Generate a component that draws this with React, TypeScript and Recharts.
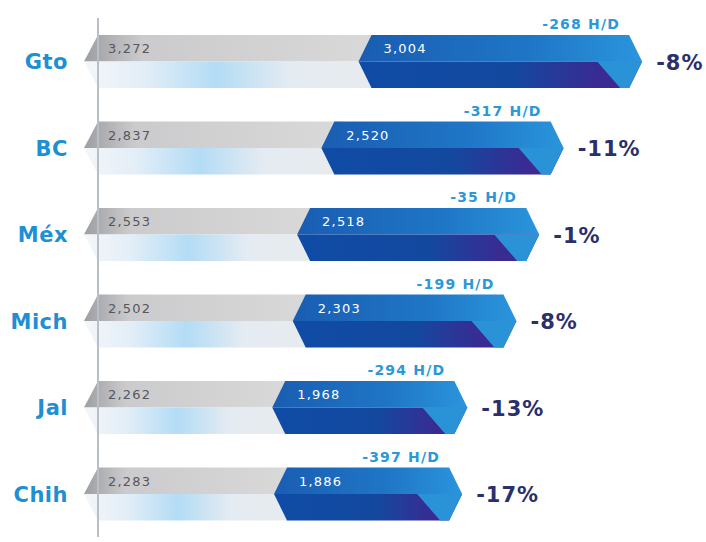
import React from 'react';
import { BarChart, Bar, XAxis, YAxis } from 'recharts';

const categories = ['Gto', 'BC', 'Méx', 'Mich', 'Jal', 'Chih'];
const previousValues = [3272, 2837, 2553, 2502, 2262, 2283];
const currentValues = [3004, 2520, 2518, 2303, 1968, 1886];
const diffLabels = ['-268 H/D', '-317 H/D', '-35 H/D', '-199 H/D', '-294 H/D', '-397 H/D'];
const pctLabels = ['-8%', '-11%', '-1%', '-8%', '-13%', '-17%'];

const data = categories.map((name, i) => ({
  name,
  prev: previousValues[i],
  cur: currentValues[i],
  diff: diffLabels[i],
  pct: pctLabels[i],
}));

const FONT = '"DejaVu Sans", "Open Sans", sans-serif';
const fmt = (v: number) => v.toLocaleString('en-US');

const GrayShape = (props: any) => {
  const { x, y, width, height, payload } = props;
  const h = height;
  const mid = y + h / 2;
  const xs = x - 14;
  const xe = x + width;
  return (
    <g>
      <polygon points={`${xs},${mid} ${x},${y} ${xe},${y} ${xe},${mid}`} fill="url(#grayTop)" />
      <polygon points={`${xs},${mid} ${xe},${mid} ${xe},${y + h} ${x},${y + h}`} fill="url(#grayBottom)" />
      <text x={x + 10} y={y + 18} fontFamily={FONT} fontSize={13} letterSpacing={1.2} fill="#55575e">
        {fmt(payload.prev)}
      </text>
    </g>
  );
};

const BlueShape = (props: any) => {
  const { x, y, width, height, payload } = props;
  const h = height;
  const mid = y + h / 2;
  const d = 13;
  const xs = x - 19;
  const xe = x + width + 8;
  return (
    <g>
      <polygon points={`${xs},${mid} ${xs + d},${y} ${xe - d},${y} ${xe},${mid}`} fill="url(#blueTop)" />
      <polygon points={`${xs},${mid} ${xe},${mid} ${xe - d},${y + h} ${xs + d},${y + h}`} fill="url(#blueBottom)" />
      <polygon points={`${xe - 45},${mid} ${xe},${mid} ${xe - d},${y + h} ${xe - 22},${y + h}`} fill="#2a93d8" />
      <text x={xs + 25} y={y + 18} fontFamily={FONT} fontSize={13} letterSpacing={1.2} fill="#ffffff">
        {fmt(payload.cur)}
      </text>
      <text x={xe - 22} y={y - 6} textAnchor="end" fontFamily={FONT} fontSize={14} letterSpacing={1.2} fontWeight={700} fill="#2b98d8">
        {payload.diff}
      </text>
      <text x={xe + 14} y={mid + 8} fontFamily={FONT} fontSize={21} letterSpacing={1} fontWeight={700} fill="#2b2f6b">
        {payload.pct}
      </text>
    </g>
  );
};

const CategoryTick = (props: any) => {
  const { x, y, payload } = props;
  return (
    <text x={x - 22} y={y + 8} textAnchor="end" fontFamily={FONT} fontSize={21} letterSpacing={0.5} fontWeight={700} fill="#1f8fd4">
      {payload.value}
    </text>
  );
};

export default function App() {
  return (
    <div style={{ position: 'absolute', left: 0, top: 0, width: 706, height: 542, background: '#ffffff' }}>
      <BarChart
        width={706}
        height={542}
        data={data}
        layout="vertical"
        margin={{ top: 18, right: 10, bottom: 5, left: 0 }}
        barSize={53}
      >
        <defs>
          <linearGradient id="grayTop" x1="0" y1="0" x2="1" y2="0">
            <stop offset="0%" stopColor="#9d9ea2" />
            <stop offset="20%" stopColor="#cbcbcd" />
            <stop offset="100%" stopColor="#d9d9d9" />
          </linearGradient>
          <linearGradient id="grayBottom" x1="0" y1="0" x2="1" y2="0">
            <stop offset="0%" stopColor="#f4f6f9" />
            <stop offset="20%" stopColor="#e3eef7" />
            <stop offset="45%" stopColor="#b3dcf5" />
            <stop offset="70%" stopColor="#e4ebf2" />
            <stop offset="100%" stopColor="#e8ebef" />
          </linearGradient>
          <linearGradient id="blueTop" x1="0" y1="0" x2="1" y2="0">
            <stop offset="0%" stopColor="#1a5db2" />
            <stop offset="60%" stopColor="#1f76c6" />
            <stop offset="100%" stopColor="#2a95dc" />
          </linearGradient>
          <linearGradient id="blueBottom" x1="0" y1="0" x2="1" y2="0">
            <stop offset="0%" stopColor="#0f4ca6" />
            <stop offset="55%" stopColor="#14489f" />
            <stop offset="85%" stopColor="#3a2a92" />
            <stop offset="100%" stopColor="#3a2a92" />
          </linearGradient>
        </defs>
        <XAxis type="number" domain={[0, 7000]} hide />
        <YAxis
          type="category"
          dataKey="name"
          width={98}
          axisLine={{ stroke: '#b9bfc6', strokeWidth: 2 }}
          tickLine={false}
          tick={<CategoryTick />}
        />
        <Bar dataKey="prev" stackId="a" shape={<GrayShape />} isAnimationActive={false} />
        <Bar dataKey="cur" stackId="a" shape={<BlueShape />} isAnimationActive={false} />
      </BarChart>
    </div>
  );
}
